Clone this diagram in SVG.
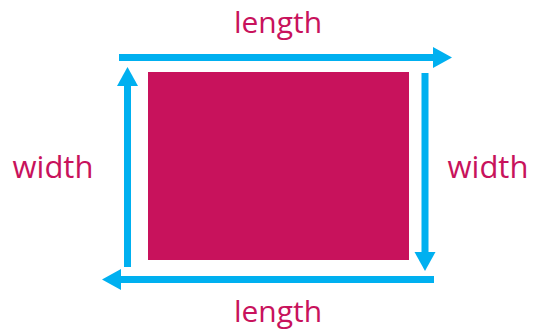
<svg xmlns="http://www.w3.org/2000/svg" width="533" height="334" viewBox="0 0 533 334">
<style>
.lbl{font-family:"Open Sans","Liberation Sans",sans-serif;font-size:30px;fill:#C8125C}
.wd{font-size:31px}
.ar{stroke:#00B0F0;stroke-width:7;fill:none}
.hd{fill:#00B0F0}
</style>
<rect width="533" height="334" fill="#fff"/>
<g id="rect"><rect x="148" y="72" width="261" height="188" fill="#C8125C"/></g>
<g id="connectors">
<line class="ar" x1="119" y1="57.5" x2="436" y2="57.5"/>
<polygon class="hd" points="452,57.5 433,47 433,68"/>
<line class="ar" x1="425" y1="73" x2="425" y2="255"/>
<polygon class="hd" points="425,271 414.5,252 435.5,252"/>
<line class="ar" x1="434" y1="279.5" x2="118" y2="279.5"/>
<polygon class="hd" points="102,279.5 121,269 121,290"/>
<line class="ar" x1="127.5" y1="267" x2="127.5" y2="84"/>
<polygon class="hd" points="127.5,67 117,86 138,86"/>
</g>
<g id="labels">
<text class="lbl" x="278" y="33" text-anchor="middle">length</text>
<text class="lbl" x="278" y="322" text-anchor="middle">length</text>
<text class="lbl wd" x="53" y="178" text-anchor="middle">width</text>
<text class="lbl wd" x="488" y="178" text-anchor="middle">width</text>
</g>
</svg>
